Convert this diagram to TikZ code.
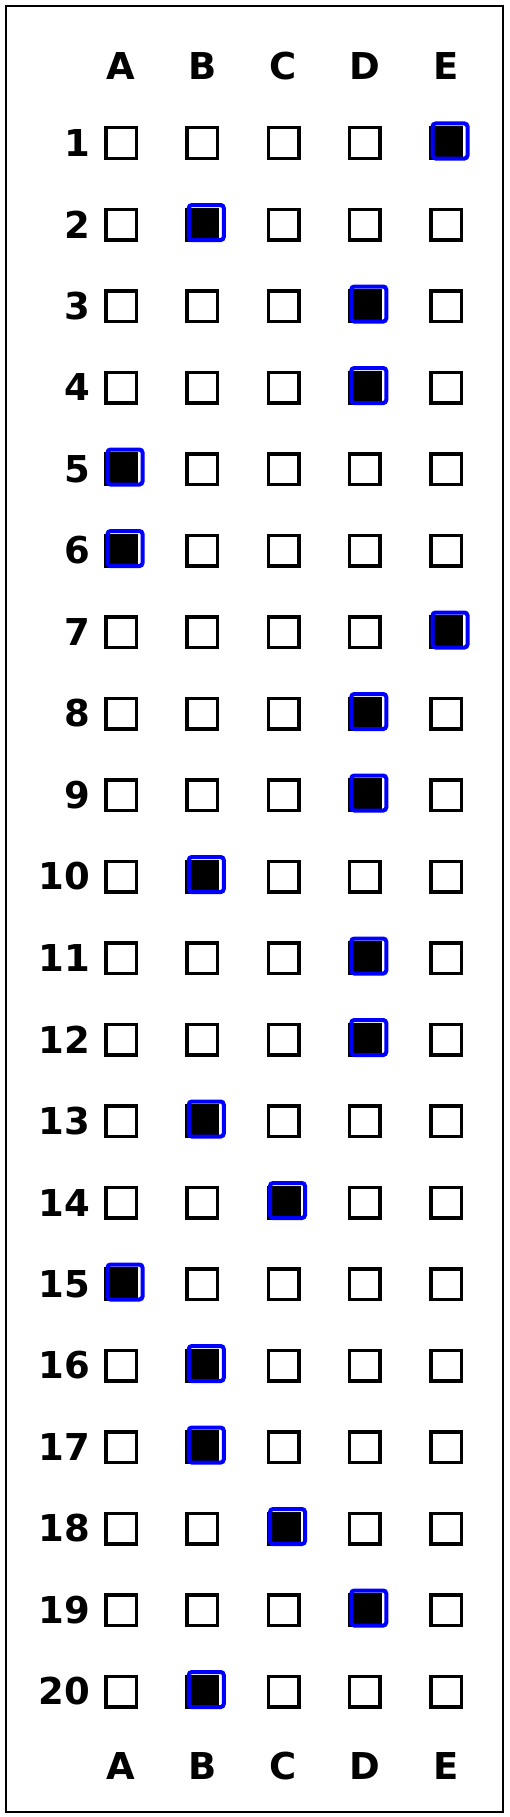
\documentclass[tikz,border=0pt]{standalone}
\usepackage{fontspec}
\setmainfont{DejaVu Sans}
\usepackage{tikz}

\begin{document}
\begin{tikzpicture}[x=1pt,y=-1pt,
    sheetlabel/.style={inner sep=0pt,font=\fontsize{37}{40}\selectfont\bfseries},
    bubble/.style={draw=black,line width=3.5pt,minimum size=30.5pt,inner sep=0pt},
    filled/.style={bubble,fill=black},
    answermark/.style={draw=blue,line width=4pt,minimum size=35pt,inner sep=0pt,rounded corners=3pt}]
    \useasboundingbox (0,0) rectangle (510,1817);
    \draw[line width=1.2pt] (6,6) rectangle (503,1812);
    % column letters, top and bottom
    \foreach \col [count=\c] in {A,B,C,D,E} {
      \node[sheetlabel] (top-\c) at (39.75+81.25*\c,66) {\col};
      \node[sheetlabel] (bot-\c) at (39.75+81.25*\c,1766) {\col};
    }
    % one row per question, the marked choice given as a number
    \foreach \ans [count=\r] in {5,2,4,4,1,1,5,4,4,2,4,4,2,3,1,2,2,3,4,2} {
      \pgfmathsetmacro\yy{143+81.5*(\r-1)}
      \node[sheetlabel,anchor=east] (num-\r) at (90,\yy) {\r};
      \foreach \c in {1,...,5} {
        \ifnum\c=\ans
          \node[filled] (box-\r-\c) at (39.75+81.25*\c,\yy) {};
          \node[answermark,xshift=4pt,yshift=2pt] (mark-\r) at (box-\r-\c) {};
        \else
          \node[bubble] (box-\r-\c) at (39.75+81.25*\c,\yy) {};
        \fi
      }
    }
\end{tikzpicture}
\end{document}
